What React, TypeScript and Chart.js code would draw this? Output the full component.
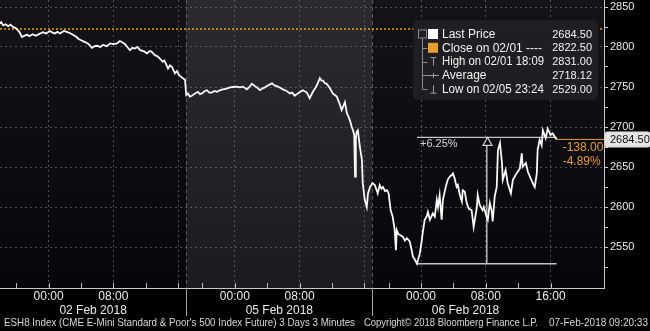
import React, { useEffect, useRef } from "react";
import { Chart, registerables } from "chart.js";

Chart.register(...registerables);

// ---------------- data ----------------
// x values are "trading hours": each session starts at 18:00 of the previous day and lasts 23h
const sessionStarts = [0, 23, 46];
const sessionLength = 23;
const sessionDates = ["02 Feb 2018", "05 Feb 2018", "06 Feb 2018"];
const xMax = 74.6;

const priceHours = [
  0.0, 0.15, 0.4, 0.7, 1.0, 1.3, 1.6, 1.9, 2.2, 2.45, 2.7, 3.0, 3.35, 3.6, 4.05, 4.4, 4.7, 5.0, 5.3, 5.7,
  6.15, 6.5, 6.8, 7.1, 7.4, 7.9, 8.25, 8.6, 8.9, 9.2, 9.4, 9.7, 9.9, 10.3, 10.75, 11.0, 11.35, 11.7, 12.0, 12.4,
  12.7, 13.2, 13.6, 14.0, 14.45, 14.8, 15.1, 15.45, 15.8, 16.05, 16.35, 16.65, 17.0, 17.3, 17.8, 18.15, 18.5, 18.75, 19.1, 19.5,
  19.8, 20.1, 20.3, 20.5, 20.75, 21.0, 21.25, 21.6, 21.85, 22.1, 22.45, 22.85,
  23.0, 23.2, 23.45, 23.7, 24.1, 24.45, 24.7, 24.95, 25.3, 25.55, 25.85, 26.15, 26.5, 26.8, 27.2, 27.55, 28.0, 28.4, 28.8, 29.25,
  29.6, 30.0, 30.5, 30.8, 31.1, 31.5, 31.8, 32.1, 32.4, 32.7, 33.1, 33.6, 33.9, 34.2, 34.6, 34.95, 35.4, 35.8, 36.1, 36.4,
  36.8, 37.1, 37.4, 37.9, 38.25, 38.65, 38.9, 39.15, 39.5, 39.7, 39.9, 40.1, 40.35, 40.75, 41.1, 41.35, 41.6, 42.0, 42.2, 42.6,
  42.85, 43.0, 43.2, 43.45, 43.6, 43.75, 43.85, 43.95, 44.05, 44.2, 44.45, 44.7, 44.8, 45.05, 45.3, 45.45, 45.7,
  46.0, 46.3, 46.65, 46.9, 47.1, 47.3, 47.55, 47.8, 48.0, 48.25, 48.5, 48.75, 48.9, 49.0, 49.2, 49.4, 49.75, 50.0, 50.25, 50.6,
  50.85, 51.0, 51.25, 51.5, 51.85, 52.05, 52.2, 52.45, 52.7, 52.85, 53.1, 53.45, 53.7, 53.95, 54.1, 54.3, 54.55, 54.7, 55.05, 55.3,
  55.55, 55.8, 55.95, 56.15, 56.4, 56.55, 56.8, 57.05, 57.15, 57.4, 57.65, 57.9, 58.25, 58.5, 58.9, 59.0, 59.25, 59.6, 59.75, 60.1,
  60.25, 60.5, 60.75, 60.85, 61.1, 61.35, 61.5, 61.75, 62.0, 62.1, 62.45, 62.7, 63.1, 63.35, 63.8, 64.2, 64.45, 64.55, 64.95, 65.2,
  65.45, 65.8, 66.05, 66.3, 66.4, 66.65, 66.9, 67.05, 67.4, 67.65, 68.0, 68.25, 68.5, 68.75,
];

const prices = [
  2829, 2831, 2827, 2828.5, 2826, 2828, 2825, 2824, 2821, 2818, 2812.5, 2814, 2815.5, 2813.5, 2816, 2814, 2815.5, 2817, 2818.5, 2817,
  2820, 2818, 2817, 2819, 2817, 2820, 2819, 2817.5, 2816, 2814, 2813, 2810, 2809, 2807, 2805, 2803, 2799, 2801, 2801.5, 2800,
  2802.5, 2801, 2804.5, 2803.5, 2804.5, 2807.5, 2806, 2803.5, 2799, 2796, 2799, 2798, 2800, 2796, 2794.5, 2792, 2795, 2794, 2790, 2788,
  2785, 2781.5, 2783, 2779, 2773, 2777, 2775, 2767, 2770, 2765, 2762, 2759,
  2740, 2742, 2738, 2739, 2742, 2744, 2741, 2742, 2745, 2746, 2743, 2743, 2745, 2744, 2746, 2747, 2748, 2749.5, 2750, 2750.5,
  2749.5, 2750.5, 2747, 2750, 2754, 2751, 2749, 2746, 2748, 2749.5, 2752, 2754.5, 2752, 2751, 2749, 2747, 2745, 2742, 2743, 2739,
  2742, 2744, 2746, 2743, 2736, 2744, 2748, 2752.5, 2761, 2758, 2758, 2755, 2754, 2748.5, 2742, 2740, 2738, 2727.5, 2721, 2731,
  2717, 2714, 2709, 2700, 2696, 2690, 2638, 2685, 2694, 2696, 2675, 2659, 2630, 2609, 2600, 2617, 2625,
  2630, 2627.5, 2617, 2627.5, 2623, 2625, 2620, 2621, 2617, 2596, 2588, 2571, 2546, 2571, 2566, 2565, 2563, 2558, 2561, 2557,
  2546, 2538, 2534, 2529, 2542, 2555, 2567, 2584, 2588, 2594, 2584, 2592, 2588, 2609, 2600, 2615, 2584, 2609, 2625, 2634,
  2638, 2640, 2642, 2636, 2625, 2627.5, 2615, 2607, 2621, 2619, 2605, 2598, 2596, 2575, 2600, 2615, 2602.5, 2596, 2600, 2588,
  2584, 2605, 2594, 2582, 2613, 2625, 2671, 2680, 2655, 2634, 2646, 2630, 2617, 2634, 2642, 2648, 2667, 2650, 2655, 2644,
  2638, 2630, 2625, 2642, 2671, 2684, 2677, 2696, 2686, 2698, 2690, 2692, 2688, 2684.5,
];

const timeTickHours = [2, 6, 10, 14, 18, 22, 25, 29, 33, 37, 41, 45, 48, 52, 56, 60, 64, 68];
const gridHours = [6, 14, 22, 29, 37, 45, 52, 60, 68];
const timeLabelHours = [6, 14, 29, 37, 52, 60, 68];
const timeLabels = ["00:00", "08:00", "00:00", "08:00", "00:00", "08:00", "16:00"];

const yMin = 2498.75;
const yMax = 2858.75;
const yTickValues = [2525, 2550, 2575, 2600, 2625, 2650, 2675, 2700, 2725, 2750, 2775, 2800, 2825, 2850];

const previousClose = 2822.5;
const lastPrice = 2684.5;
const lastHour = 68.75;
const netChangeText = "-138.00";
const pctChangeText = "-4.89%";

const measureLowHour = 51.5;
const measureLow = 2529;
const measureHigh = 2687;
const measureText = "+6.25%";

const legendLabels = ["Last Price", "Close on 02/01 ----", "High on 02/01 18:09", "Average", "Low on 02/05 23:24"];
const legendValues = ["2684.50", "2822.50", "2831.00", "2718.12", "2529.00"];

const footerLeft = "ESH8 Index (CME E-Mini Standard & Poor's 500 Index Future) 3 Days 3 Minutes";
const footerMid = "Copyright\u00A9 2018 Bloomberg Finance L.P.";
const footerRight = "07-Feb-2018 09:20:33";

// ---------------- styling ----------------
const FONT = "'Liberation Sans', Arial, sans-serif";
const ORANGE = "#eb9d2c";
const TEXT = "#ececec";
const GRID = "rgba(120,120,126,0.6)";

const overlayPlugin = {
  id: "overlay",
  beforeDraw(chart: any) {
    const { ctx, chartArea: a, scales } = chart;
    const x = scales.x;
    ctx.save();
    ctx.fillStyle = "#000";
    ctx.fillRect(0, 0, chart.width, chart.height);
    const bounds = [...sessionStarts, xMax];
    const fills = [
      ["#141318", "#07060a"],
      ["#2b2a2f", "#1c1b20"],
      ["#141318", "#07060a"],
    ];
    for (let i = 0; i < sessionStarts.length; i++) {
      const x0 = x.getPixelForValue(bounds[i]);
      const x1 = x.getPixelForValue(bounds[i + 1]);
      const g = ctx.createLinearGradient(0, a.top, 0, a.bottom);
      g.addColorStop(0, fills[i][0]);
      g.addColorStop(1, fills[i][1]);
      ctx.fillStyle = g;
      ctx.fillRect(x0, a.top, x1 - x0, a.bottom - a.top);
    }
    ctx.restore();
  },
  beforeDatasetsDraw(chart: any) {
    const { ctx, chartArea: a, scales } = chart;
    const x = scales.x;
    ctx.save();
    for (let i = 1; i < sessionStarts.length; i++) {
      const px = Math.round(x.getPixelForValue(sessionStarts[i])) + 0.5;
      ctx.strokeStyle = "rgba(95,95,100,0.9)";
      ctx.lineWidth = 1;
      ctx.setLineDash([4, 3]);
      ctx.beginPath();
      ctx.moveTo(px, a.top);
      ctx.lineTo(px, a.bottom);
      ctx.stroke();
      ctx.setLineDash([]);
      ctx.strokeStyle = "#a0a0a0";
      ctx.beginPath();
      ctx.moveTo(px, a.bottom);
      ctx.lineTo(px, a.bottom + 28);
      ctx.stroke();
    }
    ctx.restore();
  },
  afterDraw(chart: any) {
    const { ctx, chartArea: a, scales } = chart;
    const x = scales.x;
    const y = scales.y;
    ctx.save();

    // inward tick marks on the time axis
    ctx.strokeStyle = "#bdbdbd";
    ctx.lineWidth = 1;
    for (const t of x.ticks) {
      const px = Math.round(x.getPixelForValue(t.value)) + 0.5;
      ctx.beginPath();
      ctx.moveTo(px, a.bottom);
      ctx.lineTo(px, a.bottom - 5);
      ctx.stroke();
    }

    // measure tool arrow + text
    const mx = Math.round(x.getPixelForValue((measureLowHour + lastHour) / 2)) + 0.5;
    const hy = y.getPixelForValue(measureHigh);
    const lx = x.getPixelForValue(measureLowHour);
    ctx.fillStyle = "#0a090d";
    ctx.strokeStyle = "#cfcfcf";
    ctx.lineWidth = 1.2;
    ctx.beginPath();
    ctx.moveTo(mx, hy);
    ctx.lineTo(mx + 4.5, hy + 8);
    ctx.lineTo(mx - 4.5, hy + 8);
    ctx.closePath();
    ctx.fill();
    ctx.stroke();
    ctx.fillStyle = "#d6d6d6";
    ctx.font = `11px ${FONT}`;
    ctx.textBaseline = "middle";
    ctx.textAlign = "left";
    ctx.fillText(measureText, lx + 3, hy + 7);

    // change text
    const ex = x.getPixelForValue(lastHour);
    const ly = y.getPixelForValue(lastPrice);
    ctx.fillStyle = ORANGE;
    ctx.font = `12px ${FONT}`;
    ctx.fillText(netChangeText, ex + 6, ly + 8);
    ctx.fillText(pctChangeText, ex + 6, ly + 22);

    // last price tag on the axis
    ctx.fillStyle = "#e4e4e4";
    ctx.beginPath();
    (ctx as any).roundRect(a.right + 1, ly - 8, chart.width - a.right - 1, 16, 2);
    ctx.fill();
    ctx.fillStyle = "#111";
    ctx.font = `11px ${FONT}`;
    ctx.fillText(legendValues[0], a.right + 6, ly + 0.5);

    // legend box
    const bw = 185;
    const bx = a.right - bw - 6;
    const by = a.top + 20;
    const bh = 80;
    ctx.fillStyle = "rgba(32,32,36,0.95)";
    ctx.beginPath();
    (ctx as any).roundRect(bx, by, bw, bh, 5);
    ctx.fill();

    const rowY = (i: number) => by + 14 + i * 13.8;
    // tree connector
    ctx.strokeStyle = "#8a8a8a";
    ctx.lineWidth = 1;
    const tx = bx + 9.5;
    ctx.strokeRect(tx - 4, rowY(0) - 4, 8, 8);
    ctx.beginPath();
    ctx.moveTo(tx, rowY(0) + 4);
    ctx.lineTo(tx, rowY(4));
    for (let i = 1; i < 5; i++) {
      ctx.moveTo(tx, Math.round(rowY(i)) + 0.5);
      ctx.lineTo(tx + 5, Math.round(rowY(i)) + 0.5);
    }
    ctx.stroke();
    // icons
    const ix = bx + 15;
    ctx.fillStyle = "#ffffff";
    ctx.fillRect(ix, rowY(0) - 5, 10, 10);
    ctx.fillStyle = ORANGE;
    ctx.fillRect(ix, rowY(1) - 5, 10, 10);
    ctx.strokeStyle = "#9a9a9a";
    const cx = ix + 5.5;
    ctx.beginPath();
    ctx.moveTo(cx - 3, rowY(2) - 4);
    ctx.lineTo(cx + 3, rowY(2) - 4);
    ctx.moveTo(cx, rowY(2) - 4);
    ctx.lineTo(cx, rowY(2) + 4);
    ctx.moveTo(ix - 1, Math.round(rowY(3)) + 0.5);
    ctx.lineTo(ix + 11, Math.round(rowY(3)) + 0.5);
    ctx.moveTo(cx, rowY(3) - 2.5);
    ctx.lineTo(cx, rowY(3) + 2.5);
    ctx.moveTo(cx - 3, rowY(4) + 4);
    ctx.lineTo(cx + 3, rowY(4) + 4);
    ctx.moveTo(cx, rowY(4) - 4);
    ctx.lineTo(cx, rowY(4) + 4);
    ctx.stroke();

    ctx.fillStyle = "#f2f2f2";
    for (let i = 0; i < legendLabels.length; i++) {
      ctx.textAlign = "left";
      ctx.font = `12px ${FONT}`;
      ctx.fillText(legendLabels[i], bx + 29, rowY(i) + 0.5, 102);
      ctx.textAlign = "right";
      ctx.font = `11px ${FONT}`;
      ctx.fillText(legendValues[i], bx + bw - 6, rowY(i) + 0.5);
    }

    // footer
    ctx.textAlign = "left";
    ctx.fillStyle = "#d9d9d9";
    ctx.font = `11px ${FONT}`;
    const fy = chart.height - 8;
    ctx.fillText(footerLeft, 4, fy, 351);
    ctx.fillText(footerMid, 364, fy, 174);
    ctx.fillText(footerRight, 549, fy, 99);

    ctx.restore();
  },
};

export default function App() {
  const ref = useRef<HTMLCanvasElement>(null);
  useEffect(() => {
    document.body.style.margin = "0";
    document.body.style.background = "#000";
    const mid = (measureLowHour + lastHour) / 2;
    const chart = new Chart(ref.current as HTMLCanvasElement, {
      type: "line",
      data: {
        datasets: [
          {
            label: "Last Price",
            data: priceHours.map((h, i) => ({ x: h, y: prices[i] })),
            borderColor: "#f7f7f7",
            borderWidth: 1.8,
            pointRadius: 0,
            tension: 0,
          },
          {
            label: "Close",
            data: [
              { x: 0, y: previousClose },
              { x: xMax, y: previousClose },
            ],
            borderColor: ORANGE,
            borderWidth: 1.5,
            borderDash: [2, 2],
            pointRadius: 0,
          },
          {
            label: "Last line",
            data: [
              { x: lastHour, y: lastPrice },
              { x: xMax, y: lastPrice },
            ],
            borderColor: ORANGE,
            borderWidth: 1,
            pointRadius: 0,
          },
          {
            label: "Measure top",
            data: [
              { x: measureLowHour, y: measureHigh },
              { x: lastHour, y: measureHigh },
            ],
            borderColor: "#c4c4c4",
            borderWidth: 1.4,
            pointRadius: 0,
          },
          {
            label: "Measure bottom",
            data: [
              { x: measureLowHour, y: measureLow },
              { x: lastHour, y: measureLow },
            ],
            borderColor: "#c4c4c4",
            borderWidth: 1.4,
            pointRadius: 0,
          },
          {
            label: "Measure vertical",
            data: [
              { x: mid, y: measureLow },
              { x: mid, y: measureHigh },
            ],
            borderColor: "#c4c4c4",
            borderWidth: 1.4,
            pointRadius: 0,
          },
        ],
      },
      options: {
        responsive: false,
        animation: false,
        layout: { padding: { left: 0, right: 0, top: 0, bottom: 15 } },
        plugins: { legend: { display: false }, tooltip: { enabled: false }, title: { display: false } },
        scales: {
          x: {
            type: "linear",
            position: "bottom",
            min: 0,
            max: xMax,
            weight: 0,
            afterBuildTicks: (s: any) => {
              s.ticks = timeTickHours.map((v) => ({ value: v }));
            },
            afterFit: (s: any) => {
              s.height = 14;
              s.paddingLeft = 0;
              s.paddingRight = 0;
            },
            ticks: {
              autoSkip: false,
              maxRotation: 0,
              padding: 1,
              color: TEXT,
              font: { family: FONT, size: 12 },
              callback: (v: any) => {
                const k = timeLabelHours.indexOf(Number(v));
                return k >= 0 ? timeLabels[k] : "";
              },
            },
            grid: {
              drawTicks: false,
              color: (c: any) => (c.tick && gridHours.includes(c.tick.value) ? GRID : "transparent"),
              lineWidth: 1,
            },
            border: { display: true, color: "#c8c8c8", width: 1, dash: [2, 3] },
          },
          x2: {
            type: "linear",
            position: "bottom",
            min: 0,
            max: xMax,
            weight: 1,
            afterBuildTicks: (s: any) => {
              s.ticks = sessionStarts.map((v) => ({ value: v + sessionLength / 2 }));
            },
            afterFit: (s: any) => {
              s.height = 14;
              s.paddingLeft = 0;
              s.paddingRight = 0;
            },
            ticks: {
              autoSkip: false,
              maxRotation: 0,
              padding: 1,
              color: TEXT,
              font: { family: FONT, size: 12 },
              callback: (_v: any, i: number) => sessionDates[i],
            },
            grid: { display: false, drawTicks: false },
            border: { display: false },
          },
          y: {
            type: "linear",
            position: "right",
            min: yMin,
            max: yMax,
            afterBuildTicks: (s: any) => {
              s.ticks = yTickValues.map((v) => ({ value: v }));
            },
            afterFit: (s: any) => {
              s.width = 46;
              s.paddingTop = 0;
              s.paddingBottom = 0;
            },
            ticks: {
              autoSkip: false,
              padding: 2,
              color: TEXT,
              font: { family: FONT, size: 11 },
              callback: (v: any) => (Number(v) % 50 === 0 ? String(v) : ""),
            },
            grid: {
              drawTicks: true,
              tickLength: 4,
              tickColor: "#d0d0d0",
              color: (c: any) => (c.tick && c.tick.value % 50 === 0 ? GRID : "transparent"),
              lineWidth: 1,
            },
            border: { display: true, color: "#c8c8c8", width: 1, dash: [2, 3] },
          },
        },
      },
      plugins: [overlayPlugin],
    } as any);
    return () => chart.destroy();
  }, []);
  return (
    <div style={{ position: "fixed", left: 0, top: 0, width: 650, height: 331, background: "#000" }}>
      <canvas ref={ref} width={650} height={331} style={{ display: "block" }} />
    </div>
  );
}
